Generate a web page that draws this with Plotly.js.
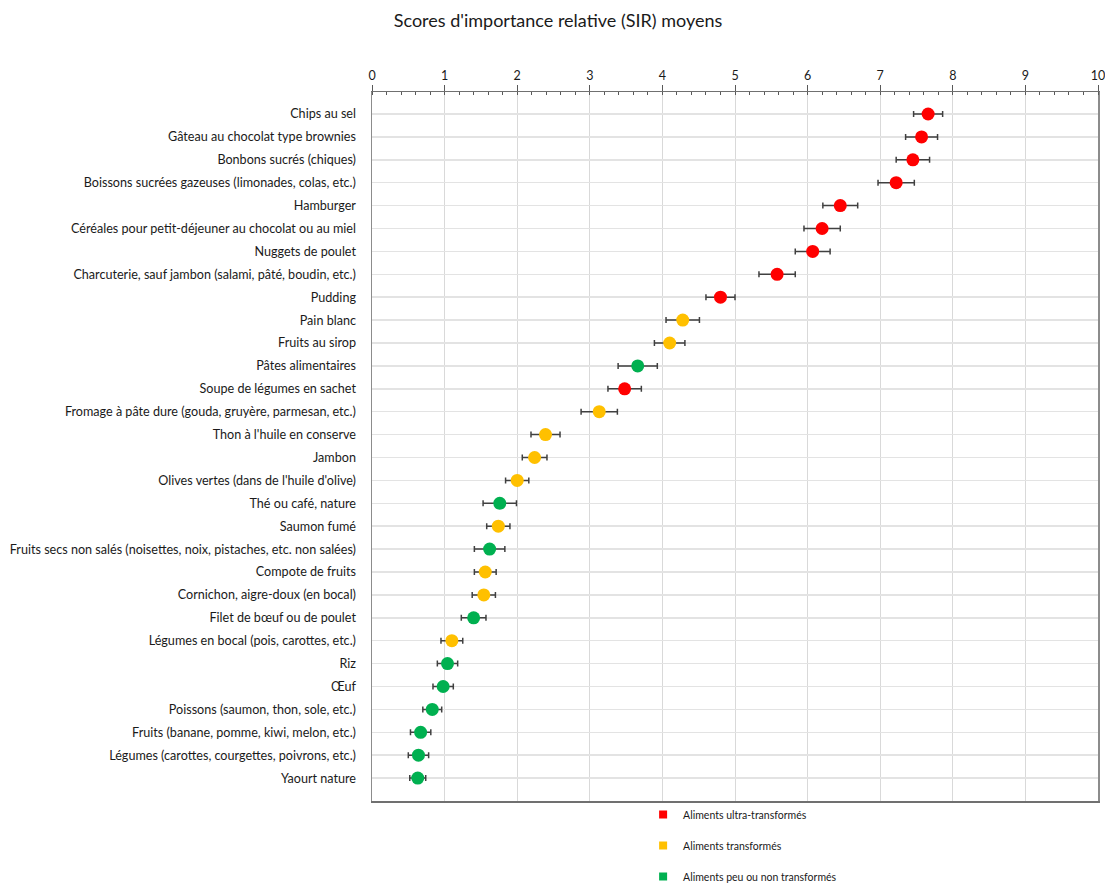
<!DOCTYPE html>
<html>
<head>
<meta charset="utf-8">
<script src="https://cdn.plot.ly/plotly-3.0.1.min.js"></script>
<style>html,body{margin:0;padding:0;background:#fff;}#chart{width:1105px;height:887px;}</style>
</head>
<body>
<div id="chart"></div>
<script>
const categories = [
  "Chips au sel",
  "Gâteau au chocolat type brownies",
  "Bonbons sucrés (chiques)",
  "Boissons sucrées gazeuses (limonades, colas, etc.)",
  "Hamburger",
  "Céréales pour petit-déjeuner au chocolat ou au miel",
  "Nuggets de poulet",
  "Charcuterie, sauf jambon (salami, pâté, boudin, etc.)",
  "Pudding",
  "Pain blanc",
  "Fruits au sirop",
  "Pâtes alimentaires",
  "Soupe de légumes en sachet",
  "Fromage à pâte dure (gouda, gruyère, parmesan, etc.)",
  "Thon à l'huile en conserve",
  "Jambon",
  "Olives vertes (dans de l'huile d'olive)",
  "Thé ou café, nature",
  "Saumon fumé",
  "Fruits secs non salés (noisettes, noix, pistaches, etc. non salées)",
  "Compote de fruits",
  "Cornichon, aigre-doux (en bocal)",
  "Filet de bœuf ou de poulet",
  "Légumes en bocal (pois, carottes, etc.)",
  "Riz",
  "Œuf",
  "Poissons (saumon, thon, sole, etc.)",
  "Fruits (banane, pomme, kiwi, melon, etc.)",
  "Légumes (carottes, courgettes, poivrons, etc.)",
  "Yaourt nature"
];
const meanScores = [7.66, 7.57, 7.45, 7.22, 6.45, 6.20, 6.07, 5.58, 4.80, 4.28,
                    4.10, 3.66, 3.48, 3.13, 2.39, 2.24, 2.00, 1.76, 1.74, 1.62,
                    1.56, 1.54, 1.40, 1.10, 1.04, 0.98, 0.83, 0.67, 0.64, 0.63];
const errors = [0.20, 0.22, 0.23, 0.25, 0.24, 0.25, 0.24, 0.25, 0.20, 0.23,
                0.21, 0.27, 0.23, 0.25, 0.20, 0.17, 0.16, 0.23, 0.16, 0.21,
                0.15, 0.16, 0.17, 0.15, 0.14, 0.14, 0.13, 0.14, 0.14, 0.11];
// U = ultra-transformés, T = transformés, N = peu ou non transformés
const groups = ["U","U","U","U","U","U","U","U","U","T",
                "T","N","U","T","T","T","T","N","T","N",
                "T","T","N","T","N","N","N","N","N","N"];
const groupKeys = ["U","T","N"];
const groupNames = ["Aliments ultra-transformés", "Aliments transformés", "Aliments peu ou non transformés"];
const groupColors = ["#FF0000", "#FFC000", "#00B050"];

const font = "Lato, 'Open Sans', sans-serif";
const traces = [];
groupKeys.forEach((g, gi) => {
  const xs = [], ys = [], es = [];
  categories.forEach((c, i) => {
    if (groups[i] === g) { xs.push(meanScores[i]); ys.push(c); es.push(errors[i]); }
  });
  traces.push({
    type: "scatter", mode: "markers", x: xs, y: ys,
    marker: {color: groupColors[gi], size: 13, symbol: "circle"},
    error_x: {type: "data", array: es, visible: true, color: "#404040", thickness: 1.5, width: 3},
    showlegend: false, hoverinfo: "x+y"
  });
});
groupKeys.forEach((g, gi) => {
  traces.push({
    type: "scatter", mode: "markers", x: [null], y: [null],
    name: groupNames[gi], legendgroup: g,
    marker: {color: groupColors[gi], size: 8, symbol: "square"},
    showlegend: true
  });
});

const layout = {
  width: 1105, height: 887,
  margin: {l: 372, r: 7, t: 92, b: 86, autoexpand: false},
  paper_bgcolor: "#ffffff", plot_bgcolor: "#ffffff",
  font: {family: font, color: "#1a1a1a"},
  title: {text: "Scores d'importance relative (SIR) moyens", x: 0.505, xref: "container",
          y: 0.977, yref: "container", yanchor: "middle", xanchor: "center",
          font: {family: font, size: 18, color: "#1a1a1a"}},
  xaxis: {
    side: "top", range: [0, 10], dtick: 1, tick0: 0,
    showgrid: true, gridcolor: "#d9d9d9", gridwidth: 1,
    showline: true, linecolor: "#707070", linewidth: 1.5, mirror: true,
    ticks: "outside", ticklen: 6, tickcolor: "#595959", tickwidth: 1,
    tickfont: {family: font, size: 12.5, color: "#1a1a1a"},
    ticklabeloverflow: "allow",
    minor: {dtick: 0.2, ticks: "inside", ticklen: 3, tickcolor: "#595959", showgrid: false},
    zeroline: false, fixedrange: true
  },
  yaxis: {
    type: "category", categoryorder: "array", categoryarray: categories,
    range: [30.0, -0.96],
    showgrid: true, gridcolor: "#e3e3e3", gridwidth: 1.5,
    showline: true, linecolor: "#8c8c8c", linewidth: 1.5, mirror: true,
    ticks: "", ticklabelstandoff: 12,
    tickfont: {family: font, size: 12.6, color: "#1a1a1a"},
    zeroline: false, fixedrange: true
  },
  legend: {
    x: 0.582, xref: "container", y: 1 - 800/887, yref: "container",
    xanchor: "left", yanchor: "top",
    font: {family: font, size: 10.5, color: "#1a1a1a"},
    tracegroupgap: 12, itemwidth: 30, bgcolor: "rgba(0,0,0,0)",
    traceorder: "grouped"
  },
  showlegend: true
};
Plotly.newPlot("chart", traces, layout, {displayModeBar: false, staticPlot: true});
</script>
</body>
</html>
